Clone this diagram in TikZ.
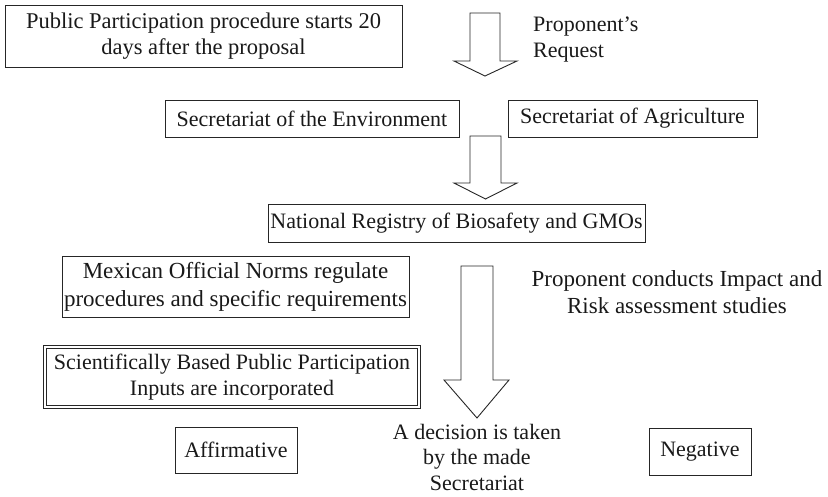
\documentclass[tikz,border=0pt]{standalone}
\usepackage{fontspec}
\setmainfont{Liberation Serif}
\begin{document}
\begin{tikzpicture}[x=1pt,y=-1pt,
  box/.style={draw=black!85,line width=0.9pt,inner sep=0pt,align=center,text=black!90,font=\fontsize{22}{26}\selectfont},
  dbox/.style={box,double,double distance=1.8pt,line width=0.7pt},
  lbl/.style={inner sep=0pt,align=center,text=black!90,font=\fontsize{22}{26}\selectfont},
  blockarrow/.style={draw=black!85,line width=0.9pt,fill=white,line join=miter}]
\useasboundingbox (0,0) rectangle (828,496);

\node[box,minimum width=397pt,minimum height=62pt,font=\fontsize{22.5}{26}\selectfont] (pp) at (203.5,36) {Public Participation procedure starts 20\\days after the proposal};
\node[lbl,align=left,anchor=west] (req) at (533,40) {Proponent's\\Request};

\node[box,minimum width=294pt,minimum height=37pt] (env) at (312,118.5) {Secretariat of the Environment};
\node[box,minimum width=249pt,minimum height=37pt] (agr) at (632.5,118.5) {Secretariat of Agriculture};

\node[box,minimum width=377pt,minimum height=38pt] (reg) at (456.5,223) {National Registry of Biosafety and GMOs};

\node[box,minimum width=347pt,minimum height=61pt,font=\fontsize{23}{28}\selectfont] (mex) at (235.5,286.5) {Mexican Official Norms regulate\\procedures and specific requirements};
\node[lbl,font=\fontsize{23}{27}\selectfont] (imp) at (677,292) {Proponent conducts Impact and\\Risk assessment studies};

\node[dbox,minimum width=374pt,minimum height=60pt] (sci) at (232,377) {Scientifically Based Public Participation\\Inputs are incorporated};

\node[box,minimum width=122pt,minimum height=46pt] (aff) at (236,450) {Affirmative};
\node[box,minimum width=102pt,minimum height=47pt] (neg) at (700,451.5) {Negative};
\node[lbl,font=\fontsize{22}{25.5}\selectfont] (dec) at (477,457) {A decision is taken\\by the made\\Secretariat};

% block arrows
\draw[blockarrow] (470,13) -- (500,13) -- (500,61) -- (517,61) -- (485,76) -- (454,61) -- (470,61) -- cycle;
\draw[blockarrow] (470,136) -- (501,136) -- (501,183) -- (517,183) -- (485.5,199) -- (454,183) -- (470,183) -- cycle;
\draw[blockarrow] (461,266) -- (493,266) -- (493,380) -- (509,380) -- (477,418) -- (444,380) -- (461,380) -- cycle;
\end{tikzpicture}
\end{document}
